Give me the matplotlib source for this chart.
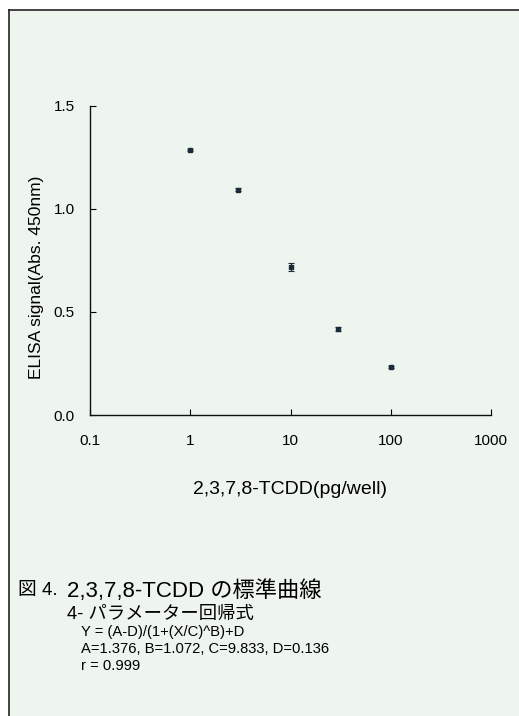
import numpy as np
import matplotlib.pyplot as plt
from matplotlib.patches import Rectangle
from matplotlib.lines import Line2D

# Standard curve data
conc = [1, 3, 10, 30, 100]
signal = [1.285, 1.093, 0.719, 0.419, 0.231]
err = [0.005, 0.008, 0.02, 0.01, 0.005]

xticks = [0.1, 1, 10, 100, 1000]
xtick_labels = ['0.1', '1', '10', '100', '1000']
yticks = [0.0, 0.5, 1.0, 1.5]

caption_no = '図 4.'
caption = '2,3,7,8-TCDD の標準曲線'
subtitle = '4- パラメーター回帰式'
formula_lines = ['Y = (A-D)/(1+(X/C)^B)+D',
                 'A=1.376, B=1.072, C=9.833, D=0.136',
                 'r = 0.999']

plt.rcParams['font.family'] = ['Liberation Sans', 'Noto Sans CJK JP']

W, H = 519, 716
fig = plt.figure(figsize=(W / 100, H / 100), dpi=100)
fig.patch.set_facecolor('white')

def fx(px):
    return px / W

def fy(py):
    return 1 - py / H

bg = '#eef4ee'
# Panel background with top and left border
fig.patches.append(Rectangle((fx(9), 0), 1 - fx(9), fy(10), transform=fig.transFigure,
                             facecolor=bg, edgecolor='none', zorder=-5))
fig.lines.append(Line2D([fx(9), fx(9)], [0, fy(10)], transform=fig.transFigure,
                        color='#222222', lw=1.2, zorder=-4))
fig.lines.append(Line2D([fx(9), 1], [fy(10), fy(10)], transform=fig.transFigure,
                        color='#222222', lw=1.2, zorder=-4))

ax = fig.add_axes([fx(90), fy(415), fx(491) - fx(90), fy(105.7) - fy(415)])
ax.set_facecolor('none')
ax.errorbar(conc, signal, yerr=err, fmt='s', color='#1c2b3a', ms=2.2,
            elinewidth=0.8, capsize=2, capthick=0.8)

ax.set_xscale('log')
ax.set_xlim(0.1, 1000)
ax.set_ylim(0, 1.5)
ax.set_xticks(xticks)
ax.set_xticklabels(xtick_labels)
ax.minorticks_off()
ax.set_yticks(yticks)
ax.set_yticklabels(['%.1f' % v for v in yticks])
for s in ['top', 'right']:
    ax.spines[s].set_visible(False)
for s in ['left', 'bottom']:
    ax.spines[s].set_linewidth(1.0)
    ax.spines[s].set_color('#111111')
ax.tick_params(axis='x', direction='in', length=4, pad=14, labelsize=11, width=0.8)
ax.tick_params(axis='y', direction='in', length=4, pad=11, labelsize=11, width=0.8)

fig.text(fx(290), fy(490), '2,3,7,8-TCDD(pg/well)', ha='center', va='center', fontsize=14)
fig.text(fx(37), fy(277), 'ELISA signal(Abs. 450nm)', ha='center', va='center',
         rotation=90, fontsize=12.5)

# Caption block
fig.text(fx(18), fy(591), caption_no, ha='left', va='center', fontsize=13.5)
fig.text(fx(67), fy(591), caption, ha='left', va='center', fontsize=16)
fig.text(fx(67), fy(614), subtitle, ha='left', va='center', fontsize=13.2)
for i, line in enumerate(formula_lines):
    fig.text(fx(81), fy(632 + 17 * i), line, ha='left', va='center', fontsize=10.6)

fig.savefig('out.png', dpi=100, facecolor=fig.get_facecolor())
